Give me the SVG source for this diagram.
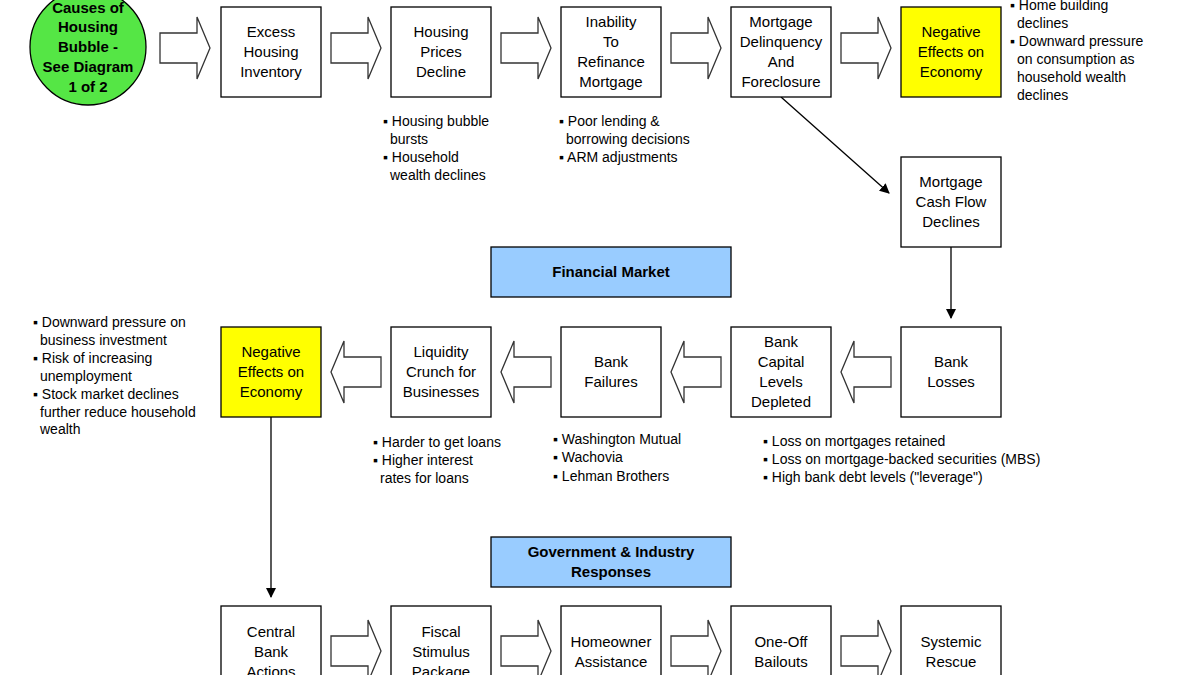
<svg xmlns="http://www.w3.org/2000/svg" width="1200" height="675" viewBox="0 0 1200 675">
<style>
.b{fill:#fff;stroke:#000;stroke-width:1.3}
.y{fill:#ffff00;stroke:#000;stroke-width:1.3}
.s{fill:#99ccff;stroke:#000;stroke-width:1.3}
.ba{fill:#fff;stroke:#333;stroke-width:1.3}
text{font-family:"Liberation Sans",Arial,sans-serif;font-size:15px;fill:#000}
.c{text-anchor:middle}
.t{font-size:14px}
.bold{font-weight:bold}
.ln{stroke:#000;stroke-width:1.3;fill:none}
</style>
<defs>
<marker id="ah" markerWidth="10" markerHeight="10" refX="9" refY="5" orient="auto" markerUnits="userSpaceOnUse"><path d="M0,0 L10,5 L0,10 z" fill="#000"/></marker>
<path id="ra" d="M0,-15 L37,-15 L37,-31 L50,0 L37,31 L37,15 L0,15 z"/>
<path id="la" d="M50,-15 L13,-15 L13,-31 L0,0 L13,31 L13,15 L50,15 z"/>
</defs>
<rect width="1200" height="675" fill="#fff"/>
<g id="connectors">
<use href="#ra" class="ba" x="160" y="48"/>
<use href="#ra" class="ba" x="331" y="48"/>
<use href="#ra" class="ba" x="501" y="48"/>
<use href="#ra" class="ba" x="671" y="48"/>
<use href="#ra" class="ba" x="841" y="48"/>
<use href="#la" class="ba" x="841" y="372"/>
<use href="#la" class="ba" x="671" y="372"/>
<use href="#la" class="ba" x="501" y="372"/>
<use href="#la" class="ba" x="331" y="372"/>
<use href="#ra" class="ba" x="331" y="651"/>
<use href="#ra" class="ba" x="501" y="651"/>
<use href="#ra" class="ba" x="671" y="651"/>
<use href="#ra" class="ba" x="841" y="651"/>
<line class="ln" x1="781" y1="97" x2="889" y2="193" marker-end="url(#ah)"/>
<line class="ln" x1="951" y1="247" x2="951" y2="318" marker-end="url(#ah)"/>
<line class="ln" x1="271" y1="417" x2="271" y2="597" marker-end="url(#ah)"/>
</g>
<g id="causes"><circle cx="88" cy="47" r="58" fill="#55e645" stroke="#000" stroke-width="1.3"/>
<text class="c bold" x="88" y="13">Causes of</text><text class="c bold" x="88" y="32">Housing</text><text class="c bold" x="88" y="52">Bubble -</text><text class="c bold" x="88" y="72">See Diagram</text><text class="c bold" x="88" y="92">1 of 2</text></g>
<g id="n1"><rect class="b" x="221" y="7" width="100" height="90"/><text class="c" x="271" y="37">Excess</text><text class="c" x="271" y="57">Housing</text><text class="c" x="271" y="77">Inventory</text></g>
<g id="n2"><rect class="b" x="391" y="7" width="100" height="90"/><text class="c" x="441" y="37">Housing</text><text class="c" x="441" y="57">Prices</text><text class="c" x="441" y="77">Decline</text></g>
<g id="n3"><rect class="b" x="561" y="7" width="100" height="90"/><text class="c" x="611" y="27">Inability</text><text class="c" x="611" y="47">To</text><text class="c" x="611" y="67">Refinance</text><text class="c" x="611" y="87">Mortgage</text></g>
<g id="n4"><rect class="b" x="731" y="7" width="100" height="90"/><text class="c" x="781" y="27">Mortgage</text><text class="c" x="781" y="47">Delinquency</text><text class="c" x="781" y="67">And</text><text class="c" x="781" y="87">Foreclosure</text></g>
<g id="n5"><rect class="y" x="901" y="7" width="100" height="90"/><text class="c" x="951" y="37">Negative</text><text class="c" x="951" y="57">Effects on</text><text class="c" x="951" y="77">Economy</text></g>
<g id="notes-top" class="t">
<text class="t" x="1010" y="10">▪ Home building</text><text class="t" x="1017" y="28">declines</text>
<text class="t" x="1010" y="46">▪ Downward pressure</text><text class="t" x="1017" y="64">on consumption as</text><text class="t" x="1017" y="82">household wealth</text><text class="t" x="1017" y="100">declines</text>
<text class="t" x="383" y="126">▪ Housing bubble</text><text class="t" x="390" y="144">bursts</text><text class="t" x="383" y="162">▪ Household</text><text class="t" x="390" y="180">wealth declines</text>
<text class="t" x="559" y="126">▪ Poor lending &amp;</text><text class="t" x="566" y="144">borrowing decisions</text><text class="t" x="559" y="162">▪ ARM adjustments</text>
</g>
<g id="n6"><rect class="b" x="901" y="157" width="100" height="90"/><text class="c" x="951" y="187">Mortgage</text><text class="c" x="951" y="207">Cash Flow</text><text class="c" x="951" y="227">Declines</text></g>
<g id="fm"><rect class="s" x="491" y="247" width="240" height="50"/><text class="c bold" x="611" y="277">Financial Market</text></g>
<g id="n7"><rect class="b" x="901" y="327" width="100" height="90"/><text class="c" x="951" y="367">Bank</text><text class="c" x="951" y="387">Losses</text></g>
<g id="n8"><rect class="b" x="731" y="327" width="100" height="90"/><text class="c" x="781" y="347">Bank</text><text class="c" x="781" y="367">Capital</text><text class="c" x="781" y="387">Levels</text><text class="c" x="781" y="407">Depleted</text></g>
<g id="n9"><rect class="b" x="561" y="327" width="100" height="90"/><text class="c" x="611" y="367">Bank</text><text class="c" x="611" y="387">Failures</text></g>
<g id="n10"><rect class="b" x="391" y="327" width="100" height="90"/><text class="c" x="441" y="357">Liquidity</text><text class="c" x="441" y="377">Crunch for</text><text class="c" x="441" y="397">Businesses</text></g>
<g id="n11"><rect class="y" x="221" y="327" width="100" height="90"/><text class="c" x="271" y="357">Negative</text><text class="c" x="271" y="377">Effects on</text><text class="c" x="271" y="397">Economy</text></g>
<g id="notes-mid">
<text class="t" x="33" y="327">▪ Downward pressure on</text><text class="t" x="40" y="345">business investment</text>
<text class="t" x="33" y="363">▪ Risk of increasing</text><text class="t" x="40" y="381">unemployment</text>
<text class="t" x="33" y="399">▪ Stock market declines</text><text class="t" x="40" y="417">further reduce household</text><text class="t" x="40" y="434">wealth</text>
<text class="t" x="373" y="447">▪ Harder to get loans</text><text class="t" x="373" y="465">▪ Higher interest</text><text class="t" x="380" y="483">rates for loans</text>
<text class="t" x="553" y="444">▪ Washington Mutual</text><text class="t" x="553" y="462">▪ Wachovia</text><text class="t" x="553" y="481">▪ Lehman Brothers</text>
<text class="t" x="763" y="446">▪ Loss on mortgages retained</text><text class="t" x="763" y="464">▪ Loss on mortgage-backed securities (MBS)</text><text class="t" x="763" y="482">▪ High bank debt levels ("leverage")</text>
</g>
<g id="gov"><rect class="s" x="491" y="537" width="240" height="50"/><text class="c bold" x="611" y="557">Government &amp; Industry</text><text class="c bold" x="611" y="577">Responses</text></g>
<g id="n12"><rect class="b" x="221" y="606" width="100" height="90"/><text class="c" x="271" y="637">Central</text><text class="c" x="271" y="657">Bank</text><text class="c" x="271" y="677">Actions</text></g>
<g id="n13"><rect class="b" x="391" y="606" width="100" height="90"/><text class="c" x="441" y="637">Fiscal</text><text class="c" x="441" y="657">Stimulus</text><text class="c" x="441" y="677">Package</text></g>
<g id="n14"><rect class="b" x="561" y="606" width="100" height="90"/><text class="c" x="611" y="647">Homeowner</text><text class="c" x="611" y="667">Assistance</text></g>
<g id="n15"><rect class="b" x="731" y="606" width="100" height="90"/><text class="c" x="781" y="647">One-Off</text><text class="c" x="781" y="667">Bailouts</text></g>
<g id="n16"><rect class="b" x="901" y="606" width="100" height="90"/><text class="c" x="951" y="647">Systemic</text><text class="c" x="951" y="667">Rescue</text></g>
</svg>
